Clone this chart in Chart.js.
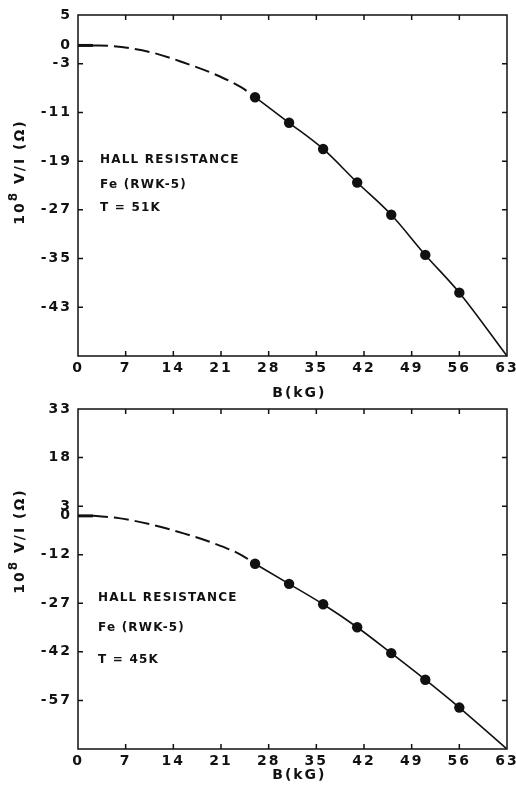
<!DOCTYPE html>
<html>
<head>
<meta charset="utf-8">
<script src="https://cdn.jsdelivr.net/npm/chart.js@4/dist/chart.umd.min.js"></script>
<style>
  html, body { margin: 0; padding: 0; background: #fff; }
  body { width: 516px; height: 792px; position: relative; overflow: hidden; }
  canvas { position: absolute; left: 0; }
  #hall51 { top: 0; }
  #hall45 { top: 396px; }
</style>
</head>
<body>
<canvas id="hall51" width="516" height="404"></canvas>
<canvas id="hall45" width="516" height="396"></canvas>
<script>
// Magnetic field axis (kG)
const fieldTicks = [0, 7, 14, 21, 28, 35, 42, 49, 56, 63];
const fieldMax = 63;

// Measured points, both temperatures
const measuredB = [26, 31, 36, 41, 46, 51, 56];

// T = 51 K
const hall51 = [-8.5, -12.7, -17.0, -22.5, -27.8, -34.4, -40.6];
const fitEnd51 = -51;
const guideB51 = [2.2, 5, 11, 15.5, 20, 24, 26];
const guide51 = [0, -0.1, -1.2, -2.8, -4.7, -6.9, -8.5];
const yTicks51 = [5, 0, -3, -11, -19, -27, -35, -43, -51];

// T = 45 K
const hall45 = [-14.8, -21.0, -27.3, -34.4, -42.4, -50.6, -59.2];
const fitEnd45 = -72;
const guideB45 = [2.2, 6, 11, 15.5, 20, 24, 26];
const guide45 = [0, -0.7, -2.8, -5.4, -8.5, -12.1, -14.8];
const yTicks45 = [33, 18, 3, 0, -12, -27, -42, -57, -72];

const zeroStartB = [0, 2.2];

const FONT = "'DejaVu Sans', sans-serif";
const INK = '#111';

const pts = (xs, ys) => xs.map((x, i) => ({ x, y: ys[i] }));

// y title "10^8 V/I (Ω)", written upward with a raised exponent
function drawYTitle(ctx, cx, cy) {
  const parts = [
    { t: '10', size: 14, rise: 0 },
    { t: '8', size: 12, rise: 6 },
    { t: ' V/I (Ω)', size: 14, rise: 0 }
  ];
  ctx.save();
  ctx.letterSpacing = '2px';
  ctx.translate(cx, cy);
  ctx.rotate(-Math.PI / 2);
  ctx.textAlign = 'left';
  ctx.textBaseline = 'middle';
  let total = 0;
  parts.forEach(p => { ctx.font = 'bold ' + p.size + 'px ' + FONT; p.w = ctx.measureText(p.t).width; total += p.w; });
  let x = -total / 2;
  parts.forEach(p => {
    ctx.font = 'bold ' + p.size + 'px ' + FONT;
    ctx.fillText(p.t, x, -p.rise);
    x += p.w;
  });
  ctx.restore();
}

// Frame, inward tick marks, y title and the sample notes
const framePlugin = {
  id: 'frame',
  beforeUpdate(chart) { chart.ctx.letterSpacing = '2px'; },
  beforeDraw(chart) { chart.ctx.letterSpacing = '2px'; },
  afterDatasetsDraw(chart, args, opts) {
    const { ctx, chartArea: a, scales } = chart;
    ctx.save();
    ctx.strokeStyle = INK;
    ctx.lineWidth = 1.5;
    ctx.strokeRect(a.left, a.top, a.right - a.left, a.bottom - a.top);
    const len = 5;
    ctx.beginPath();
    fieldTicks.slice(1, -1).forEach(v => {
      const x = scales.x.getPixelForValue(v);
      ctx.moveTo(x, a.bottom); ctx.lineTo(x, a.bottom - len);
      ctx.moveTo(x, a.top); ctx.lineTo(x, a.top + len);
    });
    opts.yTicks.slice(1, -1).filter(v => v !== 0).forEach(v => {
      const y = scales.y.getPixelForValue(v);
      ctx.moveTo(a.left, y); ctx.lineTo(a.left + len, y);
      ctx.moveTo(a.right, y); ctx.lineTo(a.right - len, y);
    });
    ctx.stroke();

    ctx.fillStyle = INK;
    drawYTitle(ctx, opts.titleX, opts.titleY);
    // notes
    ctx.letterSpacing = '1.2px';
    ctx.font = 'bold 12px ' + FONT;
    ctx.textAlign = 'left';
    ctx.textBaseline = 'middle';
    opts.notes.forEach((t, i) => ctx.fillText(t, opts.noteX, opts.noteY[i]));
    ctx.restore();
  }
};

function makeChart(id, cfg) {
  const tickFont = { family: FONT, size: 14, weight: 'bold' };
  return new Chart(document.getElementById(id), {
    type: 'scatter',
    data: {
      datasets: [
        {
          data: pts(zeroStartB, [0, 0]),
          showLine: true, borderColor: INK, borderWidth: 3, pointRadius: 0
        },
        {
          data: pts(cfg.guideB, cfg.guide),
          showLine: true, borderColor: INK, borderWidth: 2, borderDash: [15, 6],
          cubicInterpolationMode: 'monotone', pointRadius: 0
        },
        {
          data: pts(measuredB.concat([fieldMax]), cfg.hall.concat([cfg.fitEnd])),
          showLine: true, borderColor: INK, borderWidth: 1.6,
          cubicInterpolationMode: 'monotone', pointRadius: 0
        },
        {
          data: pts(measuredB, cfg.hall),
          showLine: false, pointRadius: 5.2, pointBackgroundColor: INK,
          pointBorderColor: INK, pointBorderWidth: 0
        }
      ]
    },
    options: {
      responsive: false,
      animation: false,
      events: [],
      layout: { padding: { top: cfg.padTop, right: 9, bottom: 0, left: 0 } },
      plugins: {
        legend: { display: false },
        tooltip: { enabled: false },
        frame: cfg.frame
      },
      scales: {
        x: {
          type: 'linear', min: 0, max: fieldMax,
          grid: { display: false }, border: { display: false },
          afterBuildTicks: s => { s.ticks = fieldTicks.map(v => ({ value: v })); },
          afterFit: s => { s.height = cfg.xHeight; s.paddingLeft = 0; s.paddingRight = 0; },
          ticks: { color: INK, font: tickFont, padding: -4, maxRotation: 0, autoSkip: false },
          title: {
            display: true, text: '  B(kG)', color: INK,
            font: { family: FONT, size: 14, weight: 'bold' }, padding: { top: 0, bottom: cfg.titlePad }
          }
        },
        y: {
          type: 'linear', min: cfg.yTicks[cfg.yTicks.length - 1], max: cfg.yTicks[0],
          grid: { display: false }, border: { display: false },
          afterBuildTicks: s => { s.ticks = cfg.yTicks.map(v => ({ value: v })); },
          afterFit: s => { s.width = 78; s.paddingTop = 0; s.paddingBottom = 0; },
          ticks: {
            color: INK, font: tickFont, padding: -2, autoSkip: false,
            callback: v => (v === cfg.yTicks[cfg.yTicks.length - 1] ? '' : String(v))
          }
        }
      }
    },
    plugins: [framePlugin]
  });
}

makeChart('hall51', {
  guideB: guideB51, guide: guide51, hall: hall51, fitEnd: fitEnd51, yTicks: yTicks51,
  padTop: 15, xHeight: 48, titlePad: 2,
  frame: {
    yTicks: yTicks51, titleX: 20, titleY: 172,
    notes: ['HALL RESISTANCE', 'Fe (RWK-5)', 'T = 51K'],
    noteX: 100, noteY: [160, 185, 208]
  }
});

makeChart('hall45', {
  guideB: guideB45, guide: guide45, hall: hall45, fitEnd: fitEnd45, yTicks: yTicks45,
  padTop: 13, xHeight: 43, titlePad: 8,
  frame: {
    yTicks: yTicks45, titleX: 20, titleY: 145,
    notes: ['HALL RESISTANCE', 'Fe (RWK-5)', 'T = 45K'],
    noteX: 98, noteY: [202, 232, 264]
  }
});
</script>
</body>
</html>
